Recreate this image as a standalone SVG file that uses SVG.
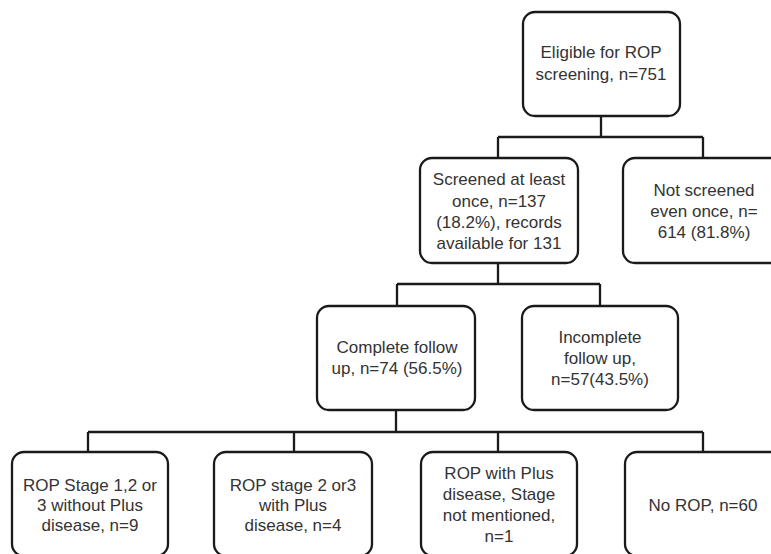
<svg xmlns="http://www.w3.org/2000/svg" width="771" height="554" viewBox="0 0 771 554">
<style>
.box{fill:#fff;stroke:#1a1a1a;stroke-width:2.3}
.t{font-family:"Liberation Sans",Arial,sans-serif;font-size:17px;fill:#333;text-anchor:middle}
.c{fill:none;stroke:#1a1a1a;stroke-width:2.3}
</style>
<rect width="771" height="554" fill="#fff"/>
<g id="connectors">
<path class="c" d="M601,116 V137 M498,137 H703 M498,137 V158 M703,137 V158"/>
<path class="c" d="M498,263 V284 M397,284 H600 M397,284 V306 M600,284 V306"/>
<path class="c" d="M396,410 V432 M88,432 H703 M88,432 V452 M294,432 V452 M498,432 V452 M703,432 V452"/>
</g>
<g id="eligible">
<rect class="box" x="523" y="12" width="157" height="104" rx="12"/>
<text class="t" x="601" y="58">Eligible for ROP</text>
<text class="t" x="601" y="80">screening, n=751</text>
</g>
<g id="screened">
<rect class="box" x="420" y="158" width="158" height="105" rx="12"/>
<text class="t" x="499" y="185">Screened at least</text>
<text class="t" x="499" y="207">once, n=137</text>
<text class="t" x="499" y="228">(18.2%), records</text>
<text class="t" x="499" y="249">available for 131</text>
</g>
<g id="notscreened">
<rect class="box" x="623" y="158" width="160" height="105" rx="12"/>
<text class="t" x="704" y="196">Not screened</text>
<text class="t" x="704" y="217">even once, n=</text>
<text class="t" x="704" y="238">614 (81.8%)</text>
</g>
<g id="complete">
<rect class="box" x="317" y="306" width="158" height="104" rx="12"/>
<text class="t" x="397" y="353">Complete follow</text>
<text class="t" x="397" y="374">up, n=74 (56.5%)</text>
</g>
<g id="incomplete">
<rect class="box" x="522" y="306" width="156" height="104" rx="12"/>
<text class="t" x="600" y="343">Incomplete</text>
<text class="t" x="600" y="364">follow up,</text>
<text class="t" x="600" y="385">n=57(43.5%)</text>
</g>
<g id="stage123">
<rect class="box" x="12" y="452" width="156" height="104" rx="12"/>
<text class="t" x="90" y="491">ROP Stage 1,2 or</text>
<text class="t" x="90" y="511">3 without Plus</text>
<text class="t" x="90" y="531">disease, n=9</text>
</g>
<g id="stage23">
<rect class="box" x="214" y="452" width="158" height="104" rx="12"/>
<text class="t" x="293" y="491">ROP stage 2 or3</text>
<text class="t" x="293" y="511">with Plus</text>
<text class="t" x="293" y="531">disease, n=4</text>
</g>
<g id="plusnostage">
<rect class="box" x="421" y="452" width="156" height="104" rx="12"/>
<text class="t" x="499" y="479">ROP with Plus</text>
<text class="t" x="499" y="500">disease, Stage</text>
<text class="t" x="499" y="521">not mentioned,</text>
<text class="t" x="499" y="542">n=1</text>
</g>
<g id="norop">
<rect class="box" x="625" y="452" width="160" height="104" rx="12"/>
<text class="t" x="703" y="511">No ROP, n=60</text>
</g>
</svg>
